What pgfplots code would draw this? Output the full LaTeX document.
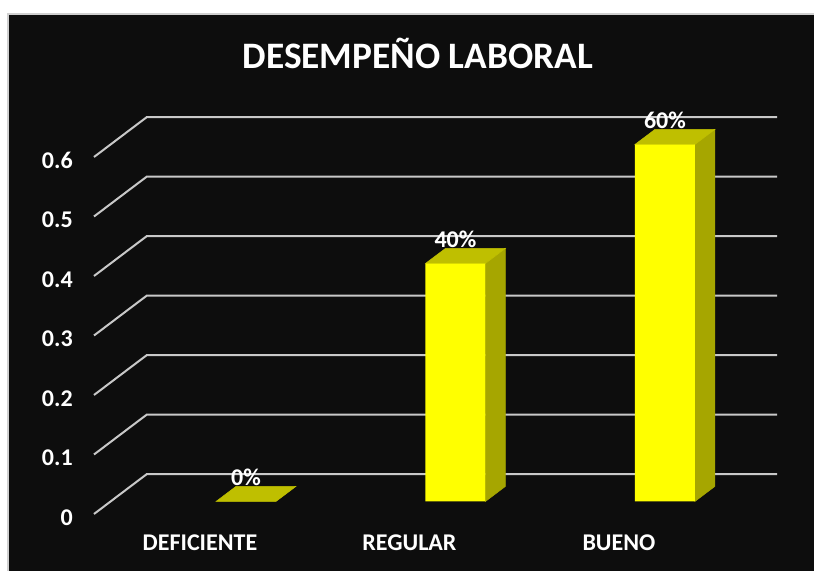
\documentclass[border=0pt]{standalone}
\usepackage{fontspec}
\setmainfont{Carlito}
\usepackage{pgfplots}
\pgfplotsset{compat=1.18}
\definecolor{panel}{HTML}{0D0D0D}
\definecolor{paneledge}{HTML}{D0D0D0}
\definecolor{wall}{HTML}{C8C8C8}
\definecolor{barfront}{HTML}{FFFF00}
\definecolor{bartop}{HTML}{BFBF00}
\definecolor{barside}{HTML}{A6A600}
% one unit of layout is 0.75pt, the page being 814 x 571 units
\tikzset{
  barplane/.style={yshift=9.4pt},
  face/.style={draw=#1, fill=#1, line width=0.4pt, mark=none},
  wallline/.style={color=wall, line width=1.5pt, mark=none, line join=round},
}
\begin{document}
\begin{tikzpicture}
\path[use as bounding box, fill=white] (0,0) rectangle (610.5pt,428.25pt);
\fill[panel] (6pt,0pt) rectangle (610.5pt,417.75pt);
\draw[paneledge, line width=1pt] (6pt,0pt) -- (6pt,417.75pt) -- (610.5pt,417.75pt);
\begin{axis}[
  at={(70.5pt,42.75pt)}, anchor=south west,
  scale only axis, width=512.25pt, height=267.75pt,
  xmin=-0.7255, xmax=2.535, ymin=0, ymax=0.6,
  clip=false,
  /pgf/number format/assume math mode=true,
  axis line style={draw=none},
  tick style={draw=none},
  xtick={0,1,2},
  xticklabels={DEFICIENTE,REGULAR,BUENO},
  ytick={0,0.1,0.2,0.3,0.4,0.5,0.6},
  yticklabels={0,0.1,0.2,0.3,0.4,0.5,0.6},
  xticklabel style={font=\fontsize{18pt}{20pt}\bfseries, text=white, xshift=-34.5pt, anchor=center, yshift=-21.5pt},
  yticklabel style={font=\fontsize{18pt}{20pt}\bfseries, text=white, anchor=east, inner sep=0pt, xshift=-15.75pt, yshift=-2.6pt},
  title={DESEMPEÑO LABORAL},
  title style={font=\fontsize{28pt}{32pt}\bfseries, text=white, at={(0.474,1.2665)}, anchor=center},
]
% back wall and side wall lines
\addplot[wallline] coordinates {(-0.7255,0.0) (-0.473,0.0672) (2.535,0.0672)};
\addplot[wallline] coordinates {(-0.7255,0.1) (-0.473,0.1672) (2.535,0.1672)};
\addplot[wallline] coordinates {(-0.7255,0.2) (-0.473,0.2672) (2.535,0.2672)};
\addplot[wallline] coordinates {(-0.7255,0.3) (-0.473,0.3672) (2.535,0.3672)};
\addplot[wallline] coordinates {(-0.7255,0.4) (-0.473,0.4672) (2.535,0.4672)};
\addplot[wallline] coordinates {(-0.7255,0.5) (-0.473,0.5672) (2.535,0.5672)};
\addplot[wallline] coordinates {(-0.7255,0.6) (-0.473,0.6672) (2.535,0.6672)};
% tops and sides of the columns
\addplot[face=bartop, barplane] coordinates {(-0.143,0) (0.143,0) (0.238,0.0252) (-0.048,0.0252)} -- cycle;
\addplot[face=barside, barplane] coordinates {(1.143,0) (1.143,0.4) (1.238,0.4252) (1.238,0.0252)} -- cycle;
\addplot[face=bartop, barplane] coordinates {(0.857,0.4) (1.143,0.4) (1.238,0.4252) (0.952,0.4252)} -- cycle;
\addplot[face=barside, barplane] coordinates {(2.143,0) (2.143,0.6) (2.238,0.6252) (2.238,0.0252)} -- cycle;
\addplot[face=bartop, barplane] coordinates {(1.857,0.6) (2.143,0.6) (2.238,0.6252) (1.952,0.6252)} -- cycle;
% column fronts, labelled with their values
\addplot[ybar, bar shift=0pt, bar width=45pt, draw=none, fill=barfront, barplane,
  point meta={y*100},
  nodes near coords={\pgfmathprintnumber{\pgfplotspointmeta}\%},
  every node near coord/.append style={font=\fontsize{18pt}{20pt}\bfseries, text=white, anchor=center, yshift=18pt, inner sep=0pt},
] coordinates {(0,0) (1,0.4) (2,0.6)};
\end{axis}
\end{tikzpicture}
\end{document}
